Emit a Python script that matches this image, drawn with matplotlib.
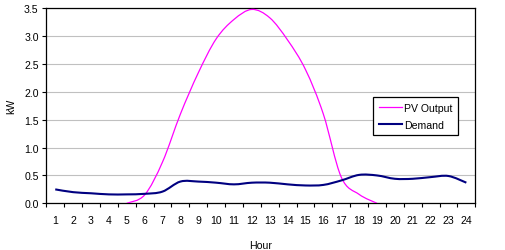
import matplotlib
matplotlib.use("Agg")
import matplotlib.pyplot as plt
import numpy as np
from matplotlib.path import Path
from matplotlib.patches import PathPatch
from matplotlib.lines import Line2D

hours = list(range(1, 25))
pv_hours = list(range(5, 20))
pv_output = [0.0, 0.15, 0.74, 1.60, 2.34, 2.95, 3.30, 3.48, 3.33, 2.93, 2.40, 1.60, 0.47, 0.16, 0.0]
demand = [0.25, 0.20, 0.18, 0.16, 0.16, 0.17, 0.21, 0.39, 0.39, 0.37, 0.34, 0.37,
          0.37, 0.34, 0.32, 0.33, 0.41, 0.51, 0.50, 0.44, 0.44, 0.47, 0.49, 0.37]
yticks = [0.0, 0.5, 1.0, 1.5, 2.0, 2.5, 3.0, 3.5]

plt.rcParams['font.family'] = ['Liberation Sans', 'DejaVu Sans']
FS = 7.6

fig = plt.figure(figsize=(5.06, 2.51), dpi=100)
ax = fig.add_axes([46.3/506, 1-204.3/251, (475.3-46.3)/506, (204.3-9.3)/251])


def smooth_path(xs, ys):
    xs = np.asarray(xs, float)
    ys = np.asarray(ys, float)
    n = len(xs)
    verts = [(xs[0], ys[0])]
    codes = [Path.MOVETO]
    for i in range(n - 1):
        p0 = np.array([xs[max(i-1, 0)], ys[max(i-1, 0)]])
        p1 = np.array([xs[i], ys[i]])
        p2 = np.array([xs[i+1], ys[i+1]])
        p3 = np.array([xs[min(i+2, n-1)], ys[min(i+2, n-1)]])
        c1 = p1 + (p2 - p0) / 6.0
        c2 = p2 - (p3 - p1) / 6.0
        verts += [tuple(c1), tuple(c2), tuple(p2)]
        codes += [Path.CURVE4, Path.CURVE4, Path.CURVE4]
    return Path(verts, codes)


pv_color = '#FF00FF'
dm_color = '#000080'
ax.add_patch(PathPatch(smooth_path(pv_hours, pv_output), fill=False, edgecolor=pv_color, lw=0.9, zorder=3))
ax.add_patch(PathPatch(smooth_path(hours, demand), fill=False, edgecolor=dm_color, lw=1.5, zorder=3))

ax.set_xlim(0.5, 24.5)
ax.set_ylim(0, 3.5)
ax.set_yticks(yticks)
ax.set_yticklabels([f"{v:.1f}" for v in yticks])
ax.set_xticks(hours)
ax.set_xticklabels([str(h) for h in hours])
ax.set_xticks(np.arange(0.5, 25, 1), minor=True)
ax.tick_params(axis='x', which='major', length=0, labelsize=FS, pad=8.5)
ax.tick_params(axis='x', which='minor', length=3, width=0.8, direction='out', color='black')
ax.tick_params(axis='y', length=3, width=0.8, direction='out', labelsize=FS, pad=2.5)
ax.grid(axis='y', color='#C0C0C0', lw=0.8)
ax.set_axisbelow(True)
for s in ax.spines.values():
    s.set_color('black')
    s.set_linewidth(0.9)

ax.set_ylabel('kW', fontsize=FS, labelpad=5.5)
ax.set_xlabel('Hour', fontsize=FS, labelpad=11)

handles = [Line2D([], [], color=pv_color, lw=0.9), Line2D([], [], color=dm_color, lw=1.5)]
leg = ax.legend(handles, ['PV Output', 'Demand'], loc='upper left',
                bbox_to_anchor=((373.3-46.3)/429, (204.3-98.3)/195), fontsize=FS,
                frameon=True, fancybox=False, edgecolor='black', framealpha=1,
                borderpad=0.5, handlelength=2.2, handletextpad=0.25, labelspacing=0.72,
                borderaxespad=0)
leg.get_frame().set_linewidth(0.9)

fig.savefig('out.png', dpi=100)
